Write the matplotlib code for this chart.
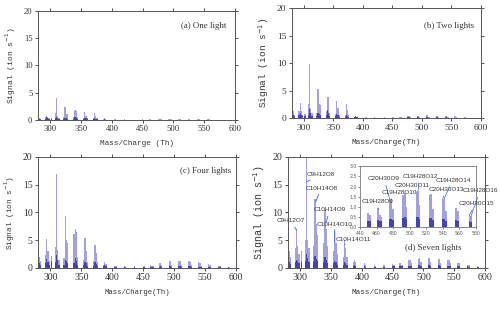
import matplotlib
matplotlib.use("Agg")
import matplotlib.pyplot as plt

# peak positions (Th), shared by all panels
masses = [280, 282, 284,
          292, 294, 296, 298,
          302,
          308, 310, 312, 314,
          322, 324, 326, 328,
          338, 340, 342, 344,
          354, 356, 358, 360,
          370, 372, 374, 376,
          386, 388, 390,
          404, 406,
          420, 422,
          436,
          450, 452,
          462, 464, 466,
          476, 478, 480,
          492, 494, 496,
          508, 510, 512,
          524, 526, 528,
          540, 542, 544,
          556, 558,
          572, 574,
          588, 590]

# (a) one light
one_light = [0.4, 0.35, 0.2,
             0.5, 0.8, 0.5, 0.3,
             0.3,
             1.2, 4.1, 0.8, 0.4,
             0.5, 2.3, 1.0, 1.0,
             0.6, 1.9, 1.7, 0.5,
             0.4, 1.5, 0.8, 0.3,
             0.3, 1.2, 0.8, 0.3,
             0.15, 0.3, 0.15,
             0.1, 0.08,
             0.08, 0.05,
             0.05,
             0.08, 0.06,
             0.1, 0.06, 0.05,
             0.12, 0.15, 0.08,
             0.15, 0.18, 0.08,
             0.18, 0.2, 0.08,
             0.15, 0.16, 0.06,
             0.14, 0.15, 0.05,
             0.1, 0.08,
             0.06, 0.05,
             0.03, 0.03]
one_dark = [0.3, 0.2, 0.1,
            0.2, 0.5, 0.3, 0.1,
            0.15,
            0.3, 0.6, 0.4, 0.2,
            0.2, 0.4, 0.3, 0.2,
            0.2, 0.6, 0.4, 0.2,
            0.2, 0.4, 0.3, 0.1,
            0.1, 0.3, 0.2, 0.1,
            0.05, 0.1, 0.05,
            0.04, 0.03,
            0.03, 0.03,
            0.03,
            0.03, 0.03,
            0.04, 0.03, 0.03,
            0.05, 0.05, 0.03,
            0.05, 0.05, 0.03,
            0.05, 0.05, 0.03,
            0.05, 0.05, 0.03,
            0.04, 0.04, 0.03,
            0.03, 0.03,
            0.03, 0.03,
            0.02, 0.02]

# (b) two lights
two_light = [1.3, 1.2, 0.6,
             1.2, 2.7, 1.3, 0.6,
             0.8,
             2.5, 9.8, 1.8, 0.9,
             1.0, 5.3, 2.5, 2.3,
             1.2, 3.9, 3.9, 1.0,
             0.8, 3.1, 1.8, 0.6,
             0.6, 2.5, 1.5, 0.5,
             0.25, 0.4, 0.25,
             0.15, 0.12,
             0.12, 0.08,
             0.1,
             0.15, 0.1,
             0.2, 0.12, 0.1,
             0.3, 0.35, 0.15,
             0.4, 0.45, 0.2,
             0.5, 0.55, 0.2,
             0.4, 0.4, 0.15,
             0.35, 0.35, 0.12,
             0.3, 0.2,
             0.15, 0.12,
             0.08, 0.06]
two_dark = [0.6, 0.5, 0.3,
            0.5, 1.0, 0.6, 0.3,
            0.3,
            0.6, 1.6, 1.0, 0.4,
            0.4, 1.0, 0.8, 0.5,
            0.5, 1.4, 1.0, 0.4,
            0.4, 0.8, 0.6, 0.2,
            0.2, 0.6, 0.4, 0.2,
            0.15, 0.3, 0.15,
            0.08, 0.06,
            0.06, 0.05,
            0.05,
            0.06, 0.05,
            0.08, 0.06, 0.05,
            0.1, 0.12, 0.08,
            0.12, 0.14, 0.08,
            0.14, 0.15, 0.08,
            0.12, 0.12, 0.06,
            0.1, 0.1, 0.05,
            0.08, 0.06,
            0.05, 0.04,
            0.03, 0.03]

# (c) four lights
four_light = [2.5, 2.0, 1.2,
              2.3, 5.2, 3.0, 1.3,
              2.2,
              3.8, 17.0, 3.2, 1.5,
              1.8, 9.3, 5.0, 4.5,
              6.1, 7.0, 6.5, 2.0,
              1.5, 5.4, 3.0, 1.0,
              1.2, 4.1, 2.7, 1.0,
              0.6, 1.0, 0.7,
              0.4, 0.3,
              0.3, 0.2,
              0.3,
              0.4, 0.3,
              0.6, 0.4, 0.3,
              0.8, 0.9, 0.5,
              1.2, 1.3, 0.6,
              1.2, 1.3, 0.6,
              1.2, 1.1, 0.5,
              1.0, 0.9, 0.4,
              0.7, 0.6,
              0.4, 0.3,
              0.2, 0.15]
four_dark = [1.0, 0.8, 0.5,
             0.8, 1.6, 1.0, 0.5,
             1.2,
             1.0, 2.3, 1.5, 0.6,
             0.6, 1.5, 1.2, 0.8,
             0.8, 1.8, 1.3, 0.6,
             0.6, 1.0, 0.8, 0.3,
             0.4, 1.0, 0.7, 0.3,
             0.3, 0.5, 0.3,
             0.15, 0.12,
             0.12, 0.1,
             0.12,
             0.15, 0.12,
             0.2, 0.15, 0.12,
             0.25, 0.28, 0.18,
             0.3, 0.32, 0.2,
             0.3, 0.32, 0.2,
             0.3, 0.28, 0.18,
             0.25, 0.25, 0.15,
             0.2, 0.15,
             0.12, 0.1,
             0.08, 0.06]

# (d) seven lights
seven_light = [3.5, 3.0, 2.0,
               3.5, 7.0, 4.0, 2.5,
               3.0,
               5.0, 26.0, 5.0, 3.5,
               4.0, 12.5, 8.0, 6.0,
               4.5, 10.5, 7.0, 4.0,
               3.0, 7.0, 4.5, 2.5,
               2.0, 5.0, 3.5, 2.0,
               1.0, 1.5, 1.0,
               0.8, 0.6,
               0.6, 0.4,
               0.5,
               0.7, 0.6,
               0.95, 0.6, 0.5,
               1.35, 1.4, 0.9,
               1.6, 1.7, 1.0,
               1.7, 1.8, 1.1,
               1.6, 1.65, 0.9,
               1.4, 1.45, 0.8,
               0.95, 0.8,
               0.6, 0.55,
               0.3, 0.25]
seven_dark = [1.3, 1.0, 0.7,
              1.0, 1.5, 1.2, 0.8,
              1.0,
              1.2, 2.5, 1.8, 1.0,
              1.0, 2.2, 1.6, 1.2,
              1.0, 2.0, 1.5, 0.9,
              0.8, 1.2, 1.0, 0.6,
              0.6, 1.0, 0.8, 0.5,
              0.4, 0.6, 0.4,
              0.3, 0.25,
              0.25, 0.2,
              0.25,
              0.3, 0.28,
              0.35, 0.3, 0.28,
              0.4, 0.42, 0.35,
              0.45, 0.48, 0.38,
              0.48, 0.5, 0.4,
              0.45, 0.45, 0.35,
              0.42, 0.42, 0.32,
              0.35, 0.3,
              0.28, 0.25,
              0.2, 0.18]

main_labels = ["C9H12O7", "C9H12O8", "C10H14O8", "C10H14O9", "C10H14O10", "C10H14O11"]
main_peaks = [(294, 6.8), (310, 15.5), (325, 11.9), (342, 8.3), (356, 4.6), (372, 4.2)]
main_text = [(284, 8.5), (334, 16.9), (334, 14.4), (348, 10.5), (356, 7.9), (386, 5.2)]

inset_labels = ["C19H28O9", "C20H30O9", "C19H28O10", "C20H30O11", "C19H28O12",
                "C20H30O13", "C19H28O14", "C20H30O15", "C19H28O16"]
inset_peaks = [(462, 0.9), (476, 1.35), (478, 1.4), (508, 1.7), (510, 1.8),
               (540, 1.4), (542, 1.45), (572, 0.6), (574, 0.55)]
inset_text = [(461, 1.28), (469, 2.39), (487.7, 1.71), (502.8, 2.07), (512.4, 2.48),
              (544.6, 1.85), (552.2, 2.31), (580, 1.17), (584.8, 1.79)]

LIGHT = '#8c88d8'
DARK = '#2c2ca6'
SERIF = 'Liberation Serif'
MONO = 'Liberation Mono'

fig = plt.figure(figsize=(5, 3.09), dpi=100)

panels = [
    # rect, light, dark, title, title pos, xlabel, tick fs, xlabel fs, ylabel fs
    ([0.076, 0.612, 0.394, 0.353], one_light, one_dark, '(a) One light', (0.954, 0.865, 'right'),
     'Mass/Charge (Th)', 6.2, 5.6, 5.8),
    ([0.584, 0.618, 0.378, 0.356], two_light, two_dark, '(b) Two lights', (0.963, 0.839, 'right'),
     'Mass/Charge(Th)', 6.8, 5.6, 6.8),
    ([0.076, 0.133, 0.396, 0.359], four_light, four_dark, '(c) Four lights', (0.973, 0.877, 'right'),
     'Mass/Charge(Th)', 7.0, 5.2, 5.6),
    ([0.576, 0.133, 0.394, 0.359], seven_light, seven_dark, '(d) Seven lights', (0.739, 0.18, 'center'),
     'Mass/Charge(Th)', 7.2, 5.6, 7.2),
]

axes = []
for rect, light, dark, title, tpos, xlab, tfs, xfs, yfs in panels:
    ax = fig.add_axes(rect)
    ax.bar(masses, light, width=2.0, color=LIGHT, alpha=0.8, linewidth=0)
    ax.bar(masses, dark, width=2.0, color=DARK, alpha=0.8, linewidth=0)
    ax.set_xlim(280, 600)
    ax.set_ylim(0, 20)
    ax.set_xticks([300, 350, 400, 450, 500, 550, 600])
    ax.set_yticks([0, 5, 10, 15, 20])
    ax.tick_params(direction='out', length=2.5, width=0.6, pad=1.5, labelsize=tfs,
                   top=True, right=True, colors='#333333')
    for lab in ax.get_xticklabels() + ax.get_yticklabels():
        lab.set_fontfamily(SERIF)
    for s in ax.spines.values():
        s.set_linewidth(0.7)
        s.set_color('#555555')
    ax.set_xlabel(xlab, fontfamily=MONO, fontsize=xfs, color='#333333', labelpad=5)
    ax.set_ylabel('Signal (ion s$^{-1}$)', fontfamily=MONO, fontsize=yfs, color='#333333', labelpad=4)
    ax.text(tpos[0], tpos[1], title, transform=ax.transAxes, ha=tpos[2], va='center',
            fontfamily=SERIF, fontsize=6.4, color='#333333')
    axes.append(ax)

axd = axes[3]
for lab, (px, py), (tx, ty) in zip(main_labels, main_peaks, main_text):
    axd.annotate(lab, xy=(px, py), xytext=(tx, ty), ha='center', va='center',
                 fontfamily='Liberation Sans', fontsize=4.6, color='#333333',
                 arrowprops=dict(arrowstyle='-', color='#3060d0', lw=0.6, shrinkA=1, shrinkB=0))

# inset of the dimer region
axi = fig.add_axes([0.72, 0.265, 0.232, 0.197])
axi.bar(masses, seven_light, width=2.0, color=LIGHT, alpha=0.8, linewidth=0)
axi.bar(masses, seven_dark, width=2.0, color=DARK, alpha=0.8, linewidth=0)
axi.set_xlim(440, 580)
axi.set_ylim(0, 3)
axi.set_xticks(range(440, 581, 20))
axi.set_yticks([0, 0.5, 1.0, 1.5, 2.0, 2.5, 3.0])
axi.set_yticklabels(['0.0', '0.5', '1.0', '1.5', '2.0', '2.5', '3.0'])
axi.tick_params(direction='out', length=1.5, width=0.5, pad=1, labelsize=3.3, colors='#555555')
for s in axi.spines.values():
    s.set_linewidth(0.6)
    s.set_color('#777777')
for lab, (px, py), (tx, ty) in zip(inset_labels, inset_peaks, inset_text):
    axi.annotate(lab, xy=(px, py), xytext=(tx, ty), ha='center', va='center',
                 fontfamily='Liberation Sans', fontsize=4.6, color='#333333', annotation_clip=False,
                 arrowprops=dict(arrowstyle='-', color='#3060d0', lw=0.5, shrinkA=1, shrinkB=0))

fig.savefig('out.png', dpi=100)
